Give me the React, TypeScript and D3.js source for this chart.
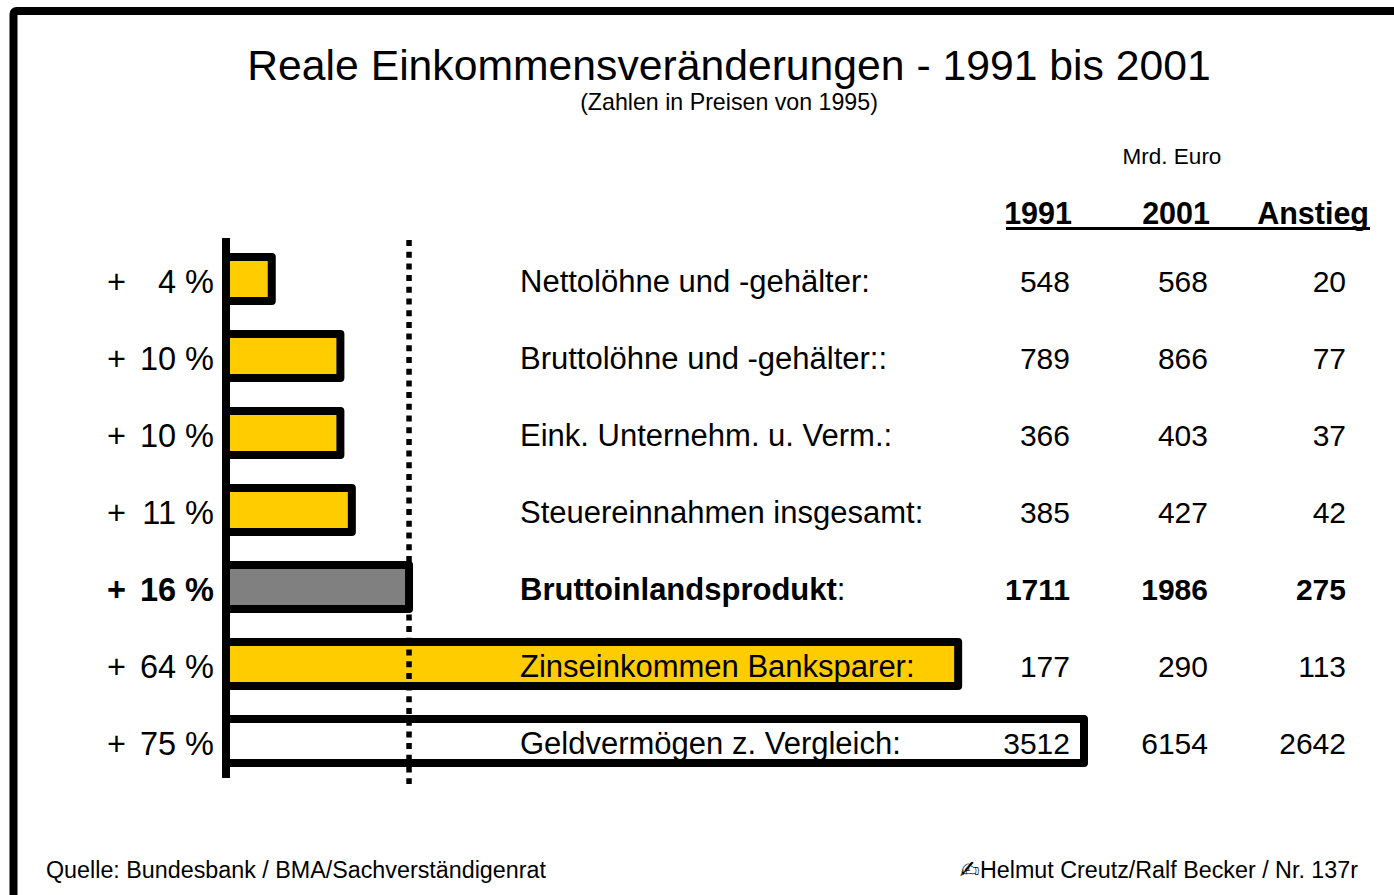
import React from 'react';
import * as d3 from 'd3';

// rows of the table, top to bottom
const categories = [
  'Nettolöhne und -gehälter:',
  'Bruttolöhne und -gehälter::',
  'Eink. Unternehm. u. Verm.:',
  'Steuereinnahmen insgesamt:',
  'Bruttoinlandsprodukt',
  'Zinseinkommen Banksparer:',
  'Geldvermögen z. Vergleich:',
];
const pctRise = [4, 10, 10, 11, 16, 64, 75];
const values1991 = [548, 789, 366, 385, 1711, 177, 3512];
const values2001 = [568, 866, 403, 427, 1986, 290, 6154];
const rise = [20, 77, 37, 42, 275, 113, 2642];
const columnHeads = ['1991', '2001', 'Anstieg'];

const W = 1394, H = 895;
const FONT = '"Liberation Sans", Arial, Helvetica, sans-serif';
const YELLOW = '#FFCC00';
const BOLD_ROW = 4; // BIP, the reference row
const barFill = (i) => (i === BOLD_ROW ? '#808080' : i === categories.length - 1 ? '#FFFFFF' : YELLOW);

const App = () => {
  const x = d3.scaleLinear().domain([0, 75]).range([226, 1084]);
  const y = d3.scalePoint().domain(categories).range([279, 741]);
  const barH = 44;
  const colRight = [1070, 1208, 1346];

  return (
    <svg width={W} height={H} style={{ position: 'absolute', left: 0, top: 0, background: '#fff' }}
      fontFamily={FONT}>
      {/* frame, cut off at right and bottom */}
      <rect x={13.5} y={11} width={1500} height={1000} fill="none" stroke="#000" strokeWidth={8} rx={3} />

      <text x={729} y={80} textAnchor="middle" fontSize={42.7}>Reale Einkommensveränderungen - 1991 bis 2001</text>
      <text x={729} y={110} textAnchor="middle" fontSize={23.2}>(Zahlen in Preisen von 1995)</text>

      <text x={1172} y={164} textAnchor="middle" fontSize={22.5}>Mrd. Euro</text>
      {columnHeads.map((h, j) => (
        <text key={h} x={j === 2 ? 1369 : colRight[j] + 2} y={224} textAnchor="end" fontSize={30.5} fontWeight="bold">{h}</text>
      ))}
      <line x1={1006} x2={1370} y1={228.5} y2={228.5} stroke="#000" strokeWidth={3} />

      {/* bars */}
      {categories.map((c, i) => (
        <rect key={c} x={x(0)} y={y(c) - barH / 2} width={x(pctRise[i]) - x(0)} height={barH}
          fill={barFill(i)} stroke="#000" strokeWidth={8} strokeLinejoin="round" />
      ))}

      {/* axis and 16 % marker */}
      <line x1={x(0)} x2={x(0)} y1={238} y2={778} stroke="#000" strokeWidth={8} />
      <line x1={x(16)} x2={x(16)} y1={240} y2={784} stroke="#000" strokeWidth={5.5} strokeDasharray="6 5.7" />

      {categories.map((c, i) => {
        const bold = i === BOLD_ROW;
        const fw = bold ? 'bold' : 'normal';
        const cy = y(c) + 2;
        return (
          <g key={'t' + c} fontWeight={fw}>
            <text x={107} y={cy} dy="0.36em" fontSize={32.5}>+</text>
            <text x={214} y={cy} dy="0.36em" fontSize={32.5} textAnchor="end">{pctRise[i]} %</text>
            <text x={520} y={cy} dy="0.36em" fontSize={31}>
              {c}{bold ? <tspan fontWeight="normal">:</tspan> : null}
            </text>
            <text x={colRight[0]} y={cy} dy="0.36em" fontSize={30} textAnchor="end">{values1991[i]}</text>
            <text x={colRight[1]} y={cy} dy="0.36em" fontSize={30} textAnchor="end">{values2001[i]}</text>
            <text x={colRight[2]} y={cy} dy="0.36em" fontSize={30} textAnchor="end">{rise[i]}</text>
          </g>
        );
      })}

      <text x={46} y={878} fontSize={23.3}>Quelle: Bundesbank / BMA/Sachverständigenrat</text>
      <text x={1358} y={878} fontSize={23.3} textAnchor="end">
        <tspan fontFamily="DejaVu Sans" fontSize={24}>✍</tspan>Helmut Creutz/Ralf Becker / Nr. 137r
      </text>
    </svg>
  );
};

export default App;
